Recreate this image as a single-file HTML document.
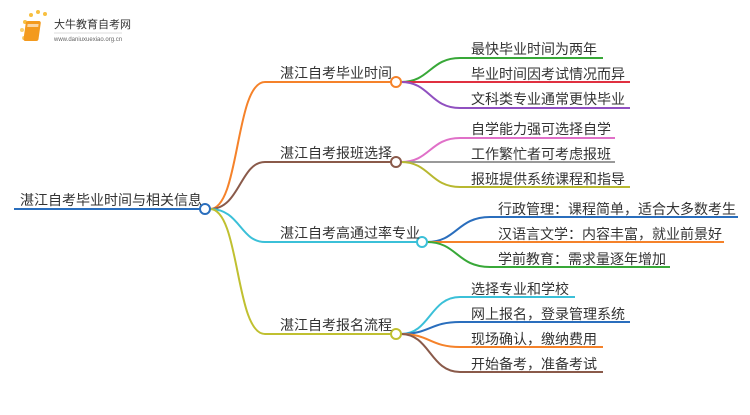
<!DOCTYPE html>
<html><head><meta charset="utf-8"><style>
html,body{margin:0;padding:0;background:#fff;}
svg text{font-family:"Liberation Sans","Noto Sans CJK SC",sans-serif;font-size:14px;fill:#333;}
</style></head><body>
<svg width="750" height="410" viewBox="0 0 750 410" xmlns="http://www.w3.org/2000/svg">
<g>
<circle cx="25" cy="22" r="2" fill="#f8c040"/><circle cx="31" cy="15" r="2" fill="#f8c040"/><circle cx="38" cy="12" r="2" fill="#f8c040"/><circle cx="45" cy="14" r="2" fill="#f8c040"/><circle cx="22" cy="30" r="2" fill="#f8d070"/><circle cx="24" cy="38" r="2" fill="#f8d070"/>
<rect x="29" y="21" width="15" height="20" rx="2" fill="#f39a1e" transform="skewX(-8)"/>
<rect x="31" y="24" width="11" height="3" fill="#fff" opacity=".6" transform="skewX(-8)"/>
<text x="54" y="28" style="font-size:11px;fill:#333">大牛教育自考网</text>
<line x1="54" y1="33" x2="122" y2="33" stroke="#ddd" stroke-width="1"/>
<text x="54" y="41" style="font-size:6px;fill:#666">www.daniuxuexiao.org.cn</text>
</g>
<g fill="none" stroke-width="2">
<path d="M14 209 H200" stroke="#2a6ebd"/>
<path d="M210 209 C240 209,235 82,265 82 H391" stroke="#f5822a"/>
<path d="M210 209 C240 209,240 162,265 162 H391" stroke="#8a5a4a"/>
<path d="M210 209 C240 209,240 242,265 242 H417" stroke="#3bc0d8"/>
<path d="M210 209 C240 209,235 334,265 334 H391" stroke="#c0c030"/>
<path d="M401 82 C430 82,430 58,460 58 H603" stroke="#38a838"/>
<path d="M401 82 H630" stroke="#e03040"/>
<path d="M401 82 C430 82,430 108,460 108 H630" stroke="#9050c0"/>
<path d="M401 162 C430 162,430 138,460 138 H615" stroke="#e070c8"/>
<path d="M401 162 H615" stroke="#999"/>
<path d="M401 162 C430 162,430 187,460 187 H630" stroke="#b8b830"/>
<path d="M427 242 C457 242,457 217,490 217 H738" stroke="#2a6ebd"/>
<path d="M427 242 H724" stroke="#f5822a"/>
<path d="M427 242 C457 242,457 267,490 267 H670" stroke="#38a838"/>
<path d="M401 334 C430 334,430 297,460 297 H575" stroke="#3bc0d8"/>
<path d="M401 334 C430 334,430 322,460 322 H630" stroke="#2a6ebd"/>
<path d="M401 334 C430 334,430 347,460 347 H603" stroke="#f5822a"/>
<path d="M401 334 C430 334,430 372,460 372 H603" stroke="#8a5a4a"/>
</g>
<g fill="#fff" stroke-width="2">
<circle cx="205" cy="209" r="5" stroke="#2a6ebd"/>
<circle cx="396" cy="82" r="5" stroke="#f5822a"/>
<circle cx="396" cy="162" r="5" stroke="#8a5a4a"/>
<circle cx="422" cy="242" r="5" stroke="#3bc0d8"/>
<circle cx="396" cy="334" r="5" stroke="#c0c030"/>
</g>
<text x="20" y="205">湛江自考毕业时间与相关信息</text>
<text x="280" y="78">湛江自考毕业时间</text>
<text x="280" y="158">湛江自考报班选择</text>
<text x="280" y="238">湛江自考高通过率专业</text>
<text x="280" y="330">湛江自考报名流程</text>
<text x="471" y="54">最快毕业时间为两年</text>
<text x="471" y="79">毕业时间因考试情况而异</text>
<text x="471" y="104">文科类专业通常更快毕业</text>
<text x="471" y="134">自学能力强可选择自学</text>
<text x="471" y="159">工作繁忙者可考虑报班</text>
<text x="471" y="184">报班提供系统课程和指导</text>
<text x="498" y="214">行政管理：课程简单，适合大多数考生</text>
<text x="498" y="239">汉语言文学：内容丰富，就业前景好</text>
<text x="498" y="264">学前教育：需求量逐年增加</text>
<text x="471" y="294">选择专业和学校</text>
<text x="471" y="319">网上报名，登录管理系统</text>
<text x="471" y="344">现场确认，缴纳费用</text>
<text x="471" y="369">开始备考，准备考试</text>
</svg>
</body></html>
